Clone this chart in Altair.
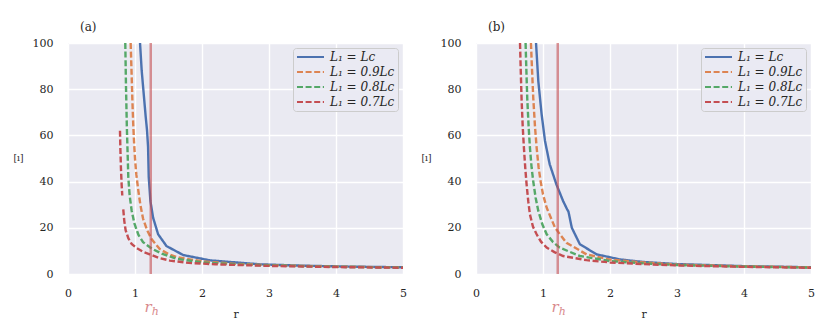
import altair as alt
import pandas as pd

FONT = "DejaVu Serif"

series = ["L₁ = Lc", "L₁ = 0.9Lc", "L₁ = 0.8Lc", "L₁ = 0.7Lc"]
colors = ["#4C72B0", "#DD8452", "#55A868", "#C44E52"]
dashes = [[1, 0], [6, 2.6], [6, 2.6], [6, 2.6]]

# ---- panel (a) ----
a_lc_r = [1.075, 1.10, 1.13, 1.16, 1.18, 1.195, 1.205, 1.23, 1.27, 1.345, 1.47, 1.72, 2.12, 2.86, 3.5, 4.2, 5.0]
a_lc_v = [100, 88, 78, 68, 62, 55, 42, 31.6, 24.4, 17.2, 12.1, 8.2, 5.9, 4.2, 3.6, 3.2, 2.9]
a_09_r = [0.935, 0.948, 0.96, 0.972, 0.985, 1.0, 1.02, 1.05, 1.08, 1.12, 1.18, 1.25, 1.37, 1.5, 1.62, 2.0, 2.5, 3.0, 4.0, 5.0]
a_09_v = [100, 88, 76, 66, 57.6, 50, 43, 36, 30, 24, 19, 15, 10.8, 8.6, 7.3, 5.5, 4.4, 3.8, 3.2, 2.8]
a_08_r = [0.855, 0.865, 0.878, 0.89, 0.90, 0.92, 0.95, 0.99, 1.05, 1.12, 1.25, 1.4, 1.62, 2.0, 2.5, 3.0, 4.0, 5.0]
a_08_v = [100, 82, 64, 52, 42, 34, 27.5, 22, 17, 13.8, 11, 8.8, 6.6, 5.0, 4.2, 3.7, 3.1, 2.8]
a_07_r_upper = [0.776, 0.782, 0.79, 0.80, 0.81]
a_07_v_upper = [62, 54, 46, 39, 34]
a_07_r_lower = [0.825, 0.84, 0.86, 0.90, 0.95, 1.025, 1.12, 1.22, 1.35, 1.52, 1.8, 2.2, 3.0, 4.0, 5.0]
a_07_v_lower = [28, 23, 19, 15.5, 13, 11.2, 9.6, 8.5, 7, 5.8, 4.8, 4.2, 3.5, 3.0, 2.7]
a_rh = 1.235

# ---- panel (b) ----
b_lc_r = [0.896, 0.93, 0.98, 1.03, 1.10, 1.20, 1.30, 1.36, 1.38, 1.43, 1.55, 1.80, 2.15, 2.5, 3.0, 4.0, 5.0]
b_lc_v = [100, 83.5, 69, 57.6, 47.5, 38.8, 31.6, 28, 27, 20, 12.9, 8.5, 6.3, 5.2, 4.3, 3.4, 2.9]
b_09_r = [0.82, 0.837, 0.855, 0.88, 0.905, 0.935, 0.965, 1.0, 1.055, 1.18, 1.35, 1.65, 2.0, 2.5, 3.0, 4.0, 5.0]
b_09_v = [100, 88, 76, 64, 54.7, 46, 40, 34.5, 28.7, 20, 13.5, 8.5, 6.2, 5.0, 4.1, 3.3, 2.9]
b_08_r = [0.74, 0.752, 0.765, 0.785, 0.805, 0.83, 0.855, 0.89, 0.93, 0.99, 1.055, 1.15, 1.25, 1.55, 2.0, 2.5, 3.0, 4.0, 5.0]
b_08_v = [100, 88, 76, 64, 54.7, 46, 40, 33, 27.3, 21.5, 17.2, 13.8, 11.4, 7.8, 5.6, 4.6, 3.9, 3.2, 2.8]
b_07_r = [0.657, 0.668, 0.68, 0.697, 0.715, 0.735, 0.755, 0.78, 0.805, 0.85, 0.905, 0.97, 1.055, 1.17, 1.30, 1.65, 2.0, 2.5, 3.0, 4.0, 5.0]
b_07_v = [100, 88, 76, 64, 54.7, 46, 38.8, 31.5, 25.8, 20.5, 17.2, 14, 11.4, 9.5, 7.8, 6.0, 5.0, 4.3, 3.7, 3.1, 2.7]
b_rh = 1.22

x_ticks = [0, 1, 2, 3, 4, 5]
y_ticks = [0, 20, 40, 60, 80, 100]


def frame(parts):
    rows = []
    for name, seg, rs, vs in parts:
        for r, v in zip(rs, vs):
            rows.append({"r": r, "v": v, "series": name, "seg": f"{name}-{seg}"})
    return pd.DataFrame(rows)


df_a = frame([
    (series[0], 0, a_lc_r, a_lc_v),
    (series[1], 0, a_09_r, a_09_v),
    (series[2], 0, a_08_r, a_08_v),
    (series[3], 0, a_07_r_upper, a_07_v_upper),
    (series[3], 1, a_07_r_lower, a_07_v_lower),
])
df_b = frame([
    (series[0], 0, b_lc_r, b_lc_v),
    (series[1], 0, b_09_r, b_09_v),
    (series[2], 0, b_08_r, b_08_v),
    (series[3], 0, b_07_r, b_07_v),
])

W, H = 335, 231
RH_COLOR = "#D98A8D"

legend = alt.Legend(title=None)


def panel(df, rh, tag):
    x = alt.X("r:Q", scale=alt.Scale(domain=[0, 5], nice=False),
              axis=alt.Axis(values=x_ticks, format="d", title="r", labelPadding=13,
                            titlePadding=10, labelFlush=False))
    y = alt.Y("v:Q", scale=alt.Scale(domain=[0, 100], nice=False),
              axis=alt.Axis(values=y_ticks, format="d", title="[ı]", titleAngle=0,
                            titleX=-50, titleY=114, titleAlign="center",
                            titleBaseline="middle", titleFontSize=9, labelPadding=15,
                            labelFlush=False))
    lines = alt.Chart(df).mark_line(clip=True, strokeWidth=2.4).encode(
        x=x, y=y,
        color=alt.Color("series:N", scale=alt.Scale(domain=series, range=colors),
                        sort=series, legend=legend),
        strokeDash=alt.StrokeDash("series:N", scale=alt.Scale(domain=series, range=dashes),
                                  sort=series, legend=legend),
        detail="seg:N",
        order=alt.Order("r:Q"),
    )
    rdf = pd.DataFrame({"r": [rh]})
    rule = alt.Chart(rdf).mark_rule(color="#C44E52", opacity=0.6, strokeWidth=2.5).encode(
        x="r:Q")
    r_txt = alt.Chart(rdf).mark_text(text="r", font=FONT, fontStyle="italic", fontSize=15,
                                     color=RH_COLOR, align="right", baseline="alphabetic",
                                     dx=1).encode(x="r:Q", y=alt.value(269))
    h_txt = alt.Chart(rdf).mark_text(text="h", font=FONT, fontStyle="italic", fontSize=11,
                                     color=RH_COLOR, align="left", baseline="alphabetic",
                                     dx=1).encode(x="r:Q", y=alt.value(272))
    return alt.layer(lines, rule, r_txt, h_txt).properties(
        width=W, height=H,
        title=alt.TitleParams(tag, anchor="start", frame="group", dx=12, fontSize=12,
                              font=FONT, fontWeight="normal", color="#262626", offset=3),
    )


chart = alt.hconcat(panel(df_a, a_rh, "(a)"), panel(df_b, b_rh, "(b)"), spacing=14).resolve_scale(
    color="independent", strokeDash="independent"
).resolve_legend(color="independent", strokeDash="independent").properties(
    padding={"left": 5, "top": 13, "right": 5, "bottom": 5}
).configure_view(
    fill="#EAEAF2", stroke=None
).configure_axis(
    domain=False, ticks=False, gridColor="white", gridWidth=1.4,
    labelFont=FONT, labelFontSize=11, labelColor="#262626",
    titleFont=FONT, titleFontSize=11, titleColor="#262626", titleFontWeight="normal",
).configure_legend(
    orient="top-right", offset=5, padding=3, fillColor="rgba(234,234,242,0.8)",
    strokeColor="#CCCCCC", cornerRadius=3, labelFont=FONT, labelFontStyle="italic",
    labelFontSize=12, labelColor="#262626", symbolType="M-1,0L4.4,0", symbolSize=100,
    symbolStrokeWidth=2, rowPadding=3, labelOffset=22,
)

chart.save("out.html", embed_options={"renderer": "svg", "actions": False})
